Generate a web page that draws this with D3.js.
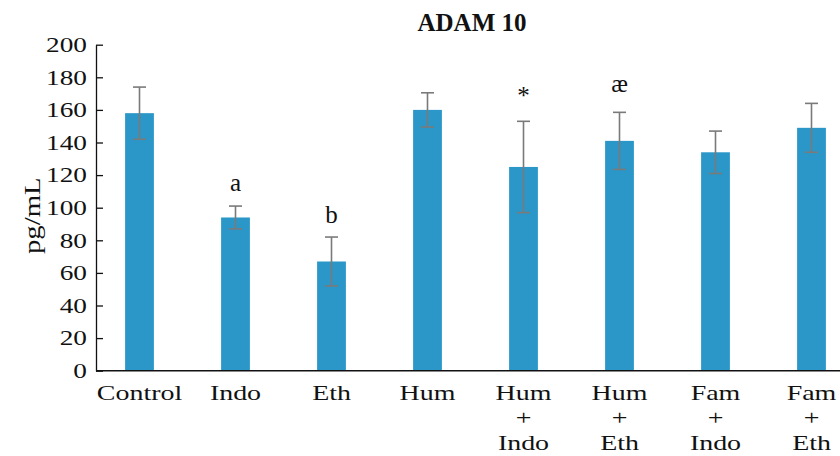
<!DOCTYPE html>
<html>
<head>
<meta charset="utf-8">
<script src="https://cdn.jsdelivr.net/npm/d3@7"></script>
<style>
  body { margin: 0; background: #fff; }
  svg { display: block; font-family: "Liberation Serif", "DejaVu Serif", serif; }
</style>
</head>
<body>
<svg id="chart" width="840" height="456"></svg>
<script>
const groups = [["Control"], ["Indo"], ["Eth"], ["Hum"], ["Hum", "+", "Indo"], ["Hum", "+", "Eth"], ["Fam", "+", "Indo"], ["Fam", "+", "Eth"]];
const means = [158, 94, 67, 160, 125, 141, 134, 149];
const errors = [16, 7, 15, 10.5, 28, 17.5, 13, 15];
const marks = ["", "a", "b", "", "*", "æ", "", ""];
const yTicks = [0, 20, 40, 60, 80, 100, 120, 140, 160, 180, 200];

const svg = d3.select("#chart");
const x0 = 96, x1 = 840, yTop = 44.7, yBottom = 370.7;

const y = d3.scaleLinear().domain([0, 200]).range([yBottom, yTop]);
const x = d3.scaleBand().domain(d3.range(groups.length))
  .range([91.5, 859.5]).paddingInner(0.7).paddingOuter(0.35);

const rows = means.map((m, i) => ({ i, m, e: errors[i], mark: marks[i], lines: groups[i] }));
const cx = d => x(d.i) + x.bandwidth() / 2;

// bars
svg.append("g").selectAll("rect").data(rows).join("rect")
  .attr("x", d => x(d.i)).attr("width", x.bandwidth())
  .attr("y", d => y(d.m)).attr("height", d => y(0) - y(d.m))
  .attr("fill", "#2b97c8");

// error bars
const eb = svg.append("g").attr("stroke", "#7a7a7a").attr("stroke-width", 1.6);
eb.selectAll("line.v").data(rows).join("line").attr("class", "v")
  .attr("x1", cx).attr("x2", cx).attr("y1", d => y(d.m + d.e)).attr("y2", d => y(d.m - d.e));
eb.selectAll("line.t").data(rows).join("line").attr("class", "t")
  .attr("x1", d => cx(d) - 6.5).attr("x2", d => cx(d) + 6.5).attr("y1", d => y(d.m + d.e)).attr("y2", d => y(d.m + d.e));
eb.selectAll("line.b").data(rows).join("line").attr("class", "b")
  .attr("x1", d => cx(d) - 6.5).attr("x2", d => cx(d) + 6.5).attr("y1", d => y(d.m - d.e)).attr("y2", d => y(d.m - d.e));

// significance letters
const gap = { a: 15, b: 14, "*": 17, "æ": 20 };
svg.append("g").selectAll("text").data(rows.filter(d => d.mark)).join("text")
  .attr("x", cx).attr("y", d => y(d.m + d.e) - gap[d.mark])
  .attr("text-anchor", "middle").attr("font-size", 25).attr("fill", "#111")
  .text(d => d.mark);

// y axis
const yAxis = svg.append("g").attr("transform", `translate(${x0},0)`)
  .call(d3.axisLeft(y).tickValues(yTicks).tickSizeInner(-7).tickSizeOuter(0).tickPadding(9));
yAxis.selectAll("path, line").attr("stroke", "#111").attr("stroke-width", 1.3);
yAxis.selectAll("text").attr("font-size", 21).attr("font-family", "Liberation Serif").attr("fill", "#111")
  .attr("x", -9 / 1.3).attr("transform", "scale(1.3,1)");

// x axis
svg.append("line").attr("x1", x0).attr("x2", x1).attr("y1", yBottom).attr("y2", yBottom)
  .attr("stroke", "#111").attr("stroke-width", 1.5);
const xl = svg.append("g").selectAll("text").data(rows).join("text")
  .attr("text-anchor", "middle").attr("font-size", 22).attr("fill", "#111")
  .attr("transform", d => `translate(${cx(d)},400) scale(1.27,1)`);
xl.selectAll("tspan").data(d => d.lines).join("tspan")
  .attr("x", 0).attr("dy", (d, k) => k === 0 ? 0 : 25).text(d => d);

// titles
svg.append("text").attr("x", 472).attr("y", 31).attr("text-anchor", "middle")
  .attr("font-size", 25).attr("font-weight", "bold").attr("fill", "#111").text("ADAM 10");
svg.append("text").attr("transform", `translate(40,${(yTop + yBottom) / 2 + 8}) rotate(-90) scale(1.2,1)`)
  .attr("text-anchor", "middle").attr("font-size", 24).attr("fill", "#111").text("pg/mL");
</script>
</body>
</html>
